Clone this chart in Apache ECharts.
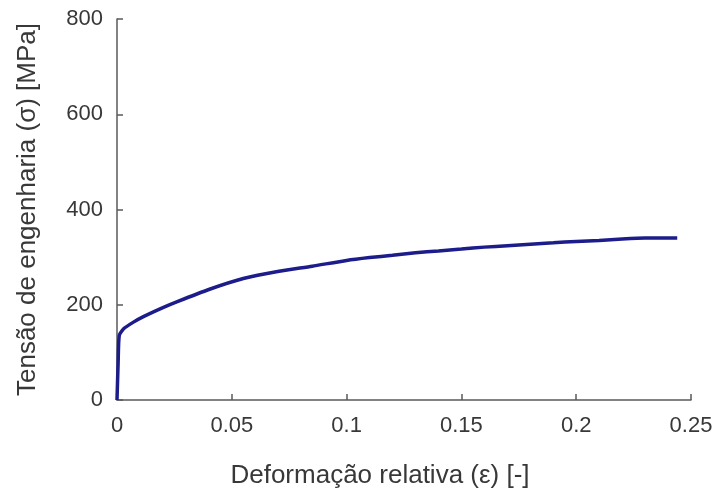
<!DOCTYPE html>
<html>
<head>
<meta charset="utf-8">
<script src="https://cdn.jsdelivr.net/npm/echarts@6/dist/echarts.min.js"></script>
<style>
  html, body { margin: 0; padding: 0; background: #fff; }
  #chart { width: 716px; height: 494px; }
</style>
</head>
<body>
<div id="chart"></div>
<script>
//strain values [-]
var strain = [0, 0.0005, 0.001, 0.003, 0.007, 0.0115, 0.02, 0.026, 0.04, 0.055,
    0.07, 0.085, 0.1, 0.11, 0.12, 0.13, 0.14, 0.15,
    0.16, 0.17, 0.18, 0.19, 0.2, 0.21, 0.22, 0.23, 0.244];
//engineering stress [MPa]
var stress = [0, 80, 136, 150, 163, 175, 194, 206, 232, 255,
    270, 281, 293, 299, 304, 309, 313, 317,
    321, 324, 327, 330, 333, 335, 338, 340, 340];

var xTicks = [0, 0.05, 0.1, 0.15, 0.2, 0.25];
var yTicks = [0, 200, 400, 600, 800];

var chart = echarts.init(document.getElementById('chart'));

var points = [];
for (var i = 0; i < strain.length; i++) {
    points.push([strain[i], stress[i]]);
}

var axisColor = '#5a5a5a';
var textColor = '#383838';
var font = '"Liberation Sans", Arial, sans-serif';

option = {
    animation: false,
    grid: {
        left: 117,
        right: 25,
        top: 19,
        bottom: 94
    },
    xAxis: {
        type: 'value',
        min: xTicks[0],
        max: xTicks[xTicks.length - 1],
        interval: 0.05,
        name: 'Deformação relativa (ε) [-]',
        nameLocation: 'middle',
        nameGap: 63,
        nameTextStyle: {
            fontFamily: font,
            fontSize: 26,
            color: textColor,
            padding: [0, 48, 0, 0]
        },
        axisLine: { lineStyle: { color: axisColor, width: 1.5 } },
        axisTick: { inside: true, length: 6, lineStyle: { color: axisColor, width: 1.5 } },
        axisLabel: {
            fontFamily: font,
            fontSize: 22,
            color: textColor,
            margin: 15,
            formatter: function (v) { return String(+v.toFixed(2)); }
        },
        splitLine: { show: false }
    },
    yAxis: {
        type: 'value',
        min: yTicks[0],
        max: yTicks[yTicks.length - 1],
        interval: 200,
        name: 'Tensão de engenharia (σ) [MPa]',
        nameLocation: 'middle',
        nameGap: 76,
        nameRotate: 90,
        nameTextStyle: {
            fontFamily: font,
            fontSize: 26,
            color: textColor
        },
        axisLine: { show: true, lineStyle: { color: axisColor, width: 1.5 } },
        axisTick: { show: true, inside: true, length: 6, lineStyle: { color: axisColor, width: 1.5 } },
        axisLabel: {
            fontFamily: font,
            fontSize: 22,
            color: textColor,
            margin: 14
        },
        splitLine: { show: false }
    },
    series: [{
        type: 'line',
        data: points,
        showSymbol: false,
        smooth: 0.2,
        lineStyle: { color: '#1c1c8a', width: 3.5 },
        itemStyle: { color: '#1c1c8a' }
    }]
};

chart.setOption(option);
</script>
</body>
</html>
